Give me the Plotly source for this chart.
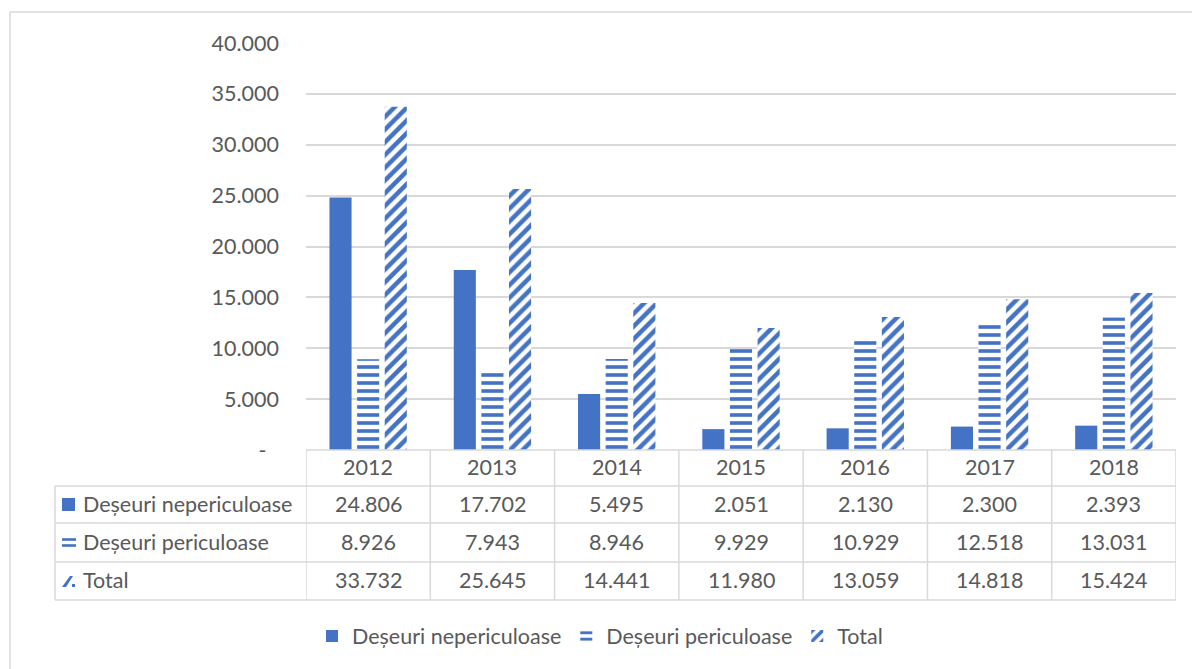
import plotly.graph_objects as go

years = ["2012", "2013", "2014", "2015", "2016", "2017", "2018"]
nepericuloase = [24806, 17702, 5495, 2051, 2130, 2300, 2393]
periculoase = [8926, 7943, 8946, 9929, 10929, 12518, 13031]
total = [33732, 25645, 14441, 11980, 13059, 14818, 15424]
series_names = ["Deșeuri nepericuloase", "Deșeuri periculoase", "Total"]
y_tickvals = [0, 5000, 10000, 15000, 20000, 25000, 30000, 35000, 40000]
y_ticktext = ["-\u2007", "5.000", "10.000", "15.000", "20.000", "25.000", "30.000", "35.000", "40.000"]

BLUE = "#4472C4"
GRID = "#D9D9D9"
TXT = "#595959"
FONT = "Lato"
FS = 21.5

W, H = 1192, 669
L, R, T, B = 306, 16, 43, 219
PW = W - L - R
PH = H - T - B


def px(xp):
    return (xp - L) / PW


def py(yp):
    return (H - B - yp) / PH


def fmt(v):
    return f"{v:,}".replace(",", ".")


fig = go.Figure()
fig.add_trace(go.Bar(x=years, y=nepericuloase, name=series_names[0],
                     marker=dict(color=BLUE, line=dict(width=0))))
fig.add_trace(go.Bar(x=years, y=periculoase, name=series_names[1],
                     marker=dict(color=BLUE, line=dict(width=0),
                                 pattern=dict(shape="-", fillmode="replace", fgcolor=BLUE,
                                              bgcolor="white", size=8, solidity=0.45))))
fig.add_trace(go.Bar(x=years, y=total, name=series_names[2],
                     marker=dict(color=BLUE, line=dict(width=0),
                                 pattern=dict(shape="/", fillmode="replace", fgcolor=BLUE,
                                              bgcolor="white", size=9, solidity=0.5))))

shapes = []
annotations = []

# chart border
shapes.append(dict(type="rect", xref="paper", yref="paper", x0=px(10), x1=px(1260),
                   y0=py(12), y1=py(700), line=dict(color=GRID, width=1.5)))

# table geometry (pixel rows)
row_y = [450, 486, 523, 562, 600]
tbl_left = 55
n = len(years)
for i in range(n + 1):
    shapes.append(dict(type="line", xref="x", yref="paper", x0=i - 0.5, x1=i - 0.5,
                       y0=py(row_y[0]), y1=py(row_y[-1]), line=dict(color=GRID, width=1.5)))
shapes.append(dict(type="line", xref="paper", yref="paper", x0=px(tbl_left), x1=px(tbl_left),
                   y0=py(row_y[1]), y1=py(row_y[-1]), line=dict(color=GRID, width=1.5)))
shapes.append(dict(type="line", xref="x", yref="paper", x0=-0.5, x1=n - 0.5,
                   y0=py(row_y[0]), y1=py(row_y[0]), line=dict(color=GRID, width=1.5)))
for yy in row_y[1:]:
    shapes.append(dict(type="line", xref="paper", yref="paper", x0=px(tbl_left), x1=1,
                       y0=py(yy), y1=py(yy), line=dict(color=GRID, width=1.5)))

for i, yr in enumerate(years):
    annotations.append(dict(x=i, xref="x", y=py((row_y[0] + row_y[1]) / 2 - 1), yref="paper",
                            text=yr, showarrow=False, xanchor="center", yanchor="middle",
                            font=dict(family=FONT, size=FS, color=TXT)))

rows = [nepericuloase, periculoase, total]
for r, vals in enumerate(rows):
    yc = py((row_y[r + 1] + row_y[r + 2]) / 2 - 1)
    for i, v in enumerate(vals):
        annotations.append(dict(x=i, xref="x", y=yc, yref="paper", text=fmt(v),
                                showarrow=False, xanchor="center", yanchor="middle",
                                font=dict(family=FONT, size=FS, color=TXT)))
    annotations.append(dict(x=px(81), xref="paper", y=yc, yref="paper", text=series_names[r],
                            xanchor="left", yanchor="middle", showarrow=False,
                            font=dict(family=FONT, size=FS, color=TXT)))

# row keys
c1 = (row_y[1] + row_y[2]) / 2
shapes.append(dict(type="rect", xref="paper", yref="paper", x0=px(62), x1=px(75),
                   y0=py(c1 - 6.5), y1=py(c1 + 6.5), fillcolor=BLUE, line=dict(width=0)))
c2 = (row_y[2] + row_y[3]) / 2
for dy in (-3, 3):
    shapes.append(dict(type="rect", xref="paper", yref="paper", x0=px(62), x1=px(76),
                       y0=py(c2 + dy - 1.3), y1=py(c2 + dy + 1.3), fillcolor=BLUE, line=dict(width=0)))
c3 = (row_y[3] + row_y[4]) / 2
shapes.append(dict(type="path", xref="paper", yref="paper",
                   path=f"M {px(62)},{py(c3 + 6)} L {px(70)},{py(c3 - 5)} L {px(73)},{py(c3 - 5)} "
                        f"L {px(66)},{py(c3 + 6)} Z",
                   fillcolor=BLUE, line=dict(width=0)))
shapes.append(dict(type="rect", xref="paper", yref="paper", x0=px(72), x1=px(75),
                   y0=py(c3 + 3), y1=py(c3 + 6), fillcolor=BLUE, line=dict(width=0)))

fig.update_layout(
    width=W, height=H,
    margin=dict(l=L, r=R, t=T, b=B),
    paper_bgcolor="white", plot_bgcolor="white",
    barmode="group", bargap=0.333, bargroupgap=0.2,
    font=dict(family=FONT, size=FS, color=TXT),
    showlegend=True,
    legend=dict(orientation="h", x=px(600), xanchor="center", y=py(636), yanchor="middle",
                font=dict(family=FONT, size=FS, color=TXT), itemwidth=30,
                traceorder="normal"),
    shapes=shapes, annotations=annotations,
)
fig.update_xaxes(type="category", range=[-0.5, n - 0.5], showticklabels=False, showgrid=False,
                 zeroline=False, showline=False, ticks="")
fig.update_yaxes(range=[0, 40000], tickvals=y_tickvals, ticktext=y_ticktext,
                 showgrid=True, gridcolor=GRID, gridwidth=1.5, zeroline=False, showline=False,
                 ticks="", ticklabelstandoff=26,
                 tickfont=dict(family=FONT, size=FS, color=TXT))

fig.write_html("out.html")
